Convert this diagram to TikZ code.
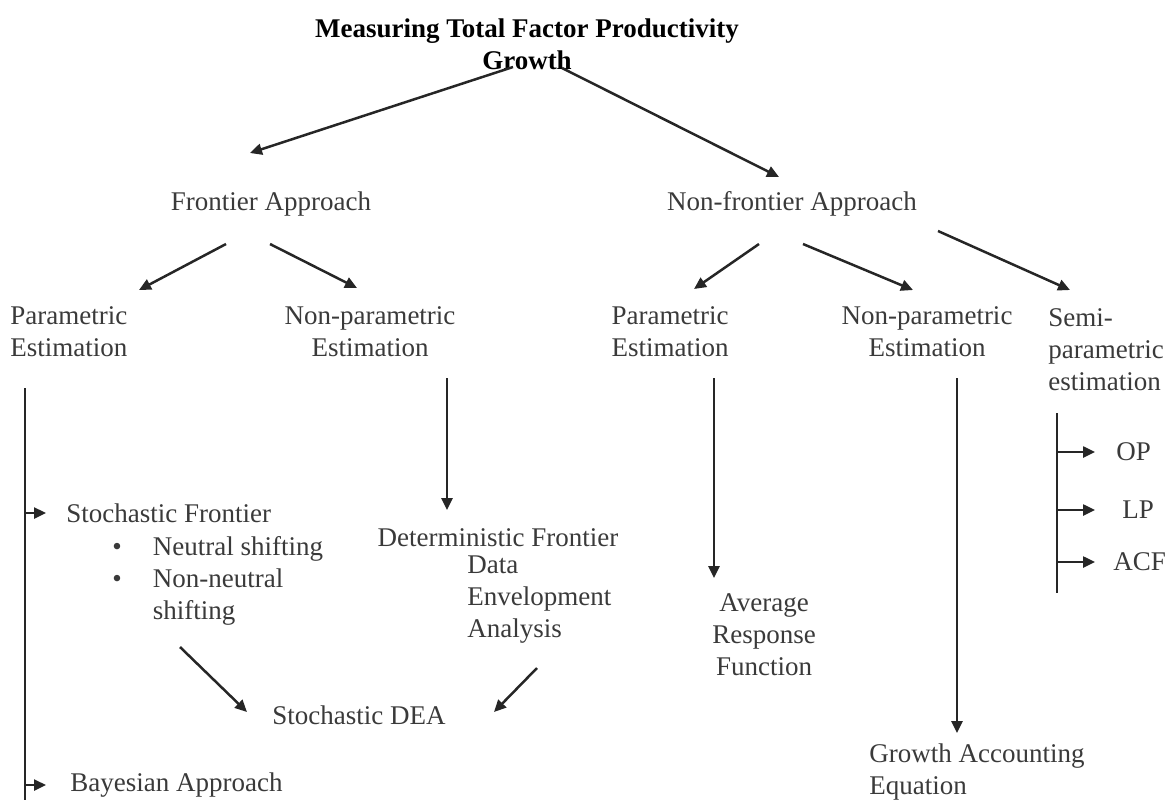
\documentclass[tikz,border=0pt]{standalone}
\usepackage{fontspec}
\setmainfont{Liberation Serif}
\usepackage{tikz}
\usetikzlibrary{arrows.meta,calc}
\definecolor{inkgray}{HTML}{3A3A3A}
\definecolor{linegray}{HTML}{262626}

\begin{document}
\begin{tikzpicture}[x=0.5pt,y=-0.5pt,
  lbl/.style={color=inkgray, inner sep=0pt, font=\fontsize{13.5}{16}\selectfont},
  lblw/.style={lbl, anchor=west, align=left},
  lblc/.style={lbl, align=center},
  arr/.style={color=linegray, line width=1.25pt, -{Triangle[length=6pt,width=5.5pt]}},
  trunk/.style={color=linegray, line width=0.9pt}]

\useasboundingbox (0,0) rectangle (1167,800);

\draw (527,44) node[lblc, color=black, font=\fontsize{13.5}{16}\selectfont\bfseries] (title) {Measuring Total Factor Productivity\\Growth};
\draw (271,204) node[lbl] (frontier) {Frontier Approach};
\draw (792,204) node[lbl] (nonfrontier) {Non-frontier Approach};
\draw (10,332) node[lblw] (fpar) {Parametric\\Estimation};
\draw (370,332) node[lblc] (fnpar) {Non-parametric\\Estimation};
\draw (670,332) node[lblc] (npar) {Parametric\\Estimation};
\draw (927,332) node[lblc] (nnpar) {Non-parametric\\Estimation};
\draw (1048,350) node[lblw] (semi) {Semi-\\parametric\\estimation};
\draw (66,513) node[lblw] (sf) {Stochastic Frontier};
\draw (112,581) node[lblw] (sflist) {\begin{tabular}{@{}l@{\hspace{15.5pt}}l@{}}
\textbullet & Neutral shifting\\
\textbullet & Non-neutral\\
 & shifting
\end{tabular}};
\draw (498,538) node[lbl] (detfront) {Deterministic Frontier};
\draw (467,600) node[lblw] (dea) {Data\\Envelopment\\Analysis};
\draw (359,715) node[lbl] (sdea) {Stochastic DEA};
\draw (70,785) node[lblw] (bayes) {Bayesian Approach};
\draw (764,635) node[lblc] (arf) {Average\\Response\\Function};
\draw (869,772) node[lblw] (gae) {Growth Accounting\\Equation};
\draw (1116,452) node[lblw] (op) {OP};
\draw (1122,510) node[lblw] (lp) {LP};
\draw (1113,562) node[lblw] (acf) {ACF};

\draw[arr] ($(title)+(-14,23)$) -- ($(frontier)+(-21,-51)$);
\draw[arr] ($(title)+(35,24)$) -- ($(nonfrontier)+(-13,-27)$);
\draw[arr] ($(frontier)+(-45,40)$) -- ($(fpar.west)+(129,-42)$);
\draw[arr] ($(frontier)+(-1,40)$) -- ($(fnpar)+(-13,-44)$);
\draw[arr] ($(nonfrontier)+(-33,40)$) -- ($(npar)+(24,-43)$);
\draw[arr] ($(nonfrontier)+(11,40)$) -- ($(nnpar)+(-14,-42)$);
\draw[arr] ($(nonfrontier)+(146,27)$) -- ($(semi.west)+(22,-60)$);

\coordinate (ftrunk) at ($(fpar.west)+(15,56)$);
\draw[trunk] (ftrunk) -- ++(0,412);
\draw[arr] (ftrunk |- sf.west) -- ($(sf.west)+(-20,0)$);
\draw[arr] (ftrunk |- bayes.west) -- ($(bayes.west)+(-24,0)$);

\draw[arr] ($(fnpar)+(77,46)$) -- ($(detfront)+(-51,-28)$);
\draw[arr] ($(sflist.west)+(68,66)$) -- ($(sdea)+(-112,-3)$);
\draw[arr] ($(dea.west)+(70,68)$) -- ($(sdea)+(135,-3)$);
\draw[arr] ($(npar)+(44,46)$) -- ($(arf)+(-50,-57)$);
\draw[arr] ($(nnpar)+(30,46)$) -- ($(gae.west)+(88,-39)$);

\coordinate (strunk) at ($(semi.west)+(9,63)$);
\draw[trunk] (strunk) -- ++(0,180);
\draw[arr] (strunk |- op.west) -- ($(op.west)+(-21,0)$);
\draw[arr] (strunk |- lp.west) -- ($(lp.west)+(-27,0)$);
\draw[arr] (strunk |- acf.west) -- ($(acf.west)+(-18,0)$);
\end{tikzpicture}
\end{document}
